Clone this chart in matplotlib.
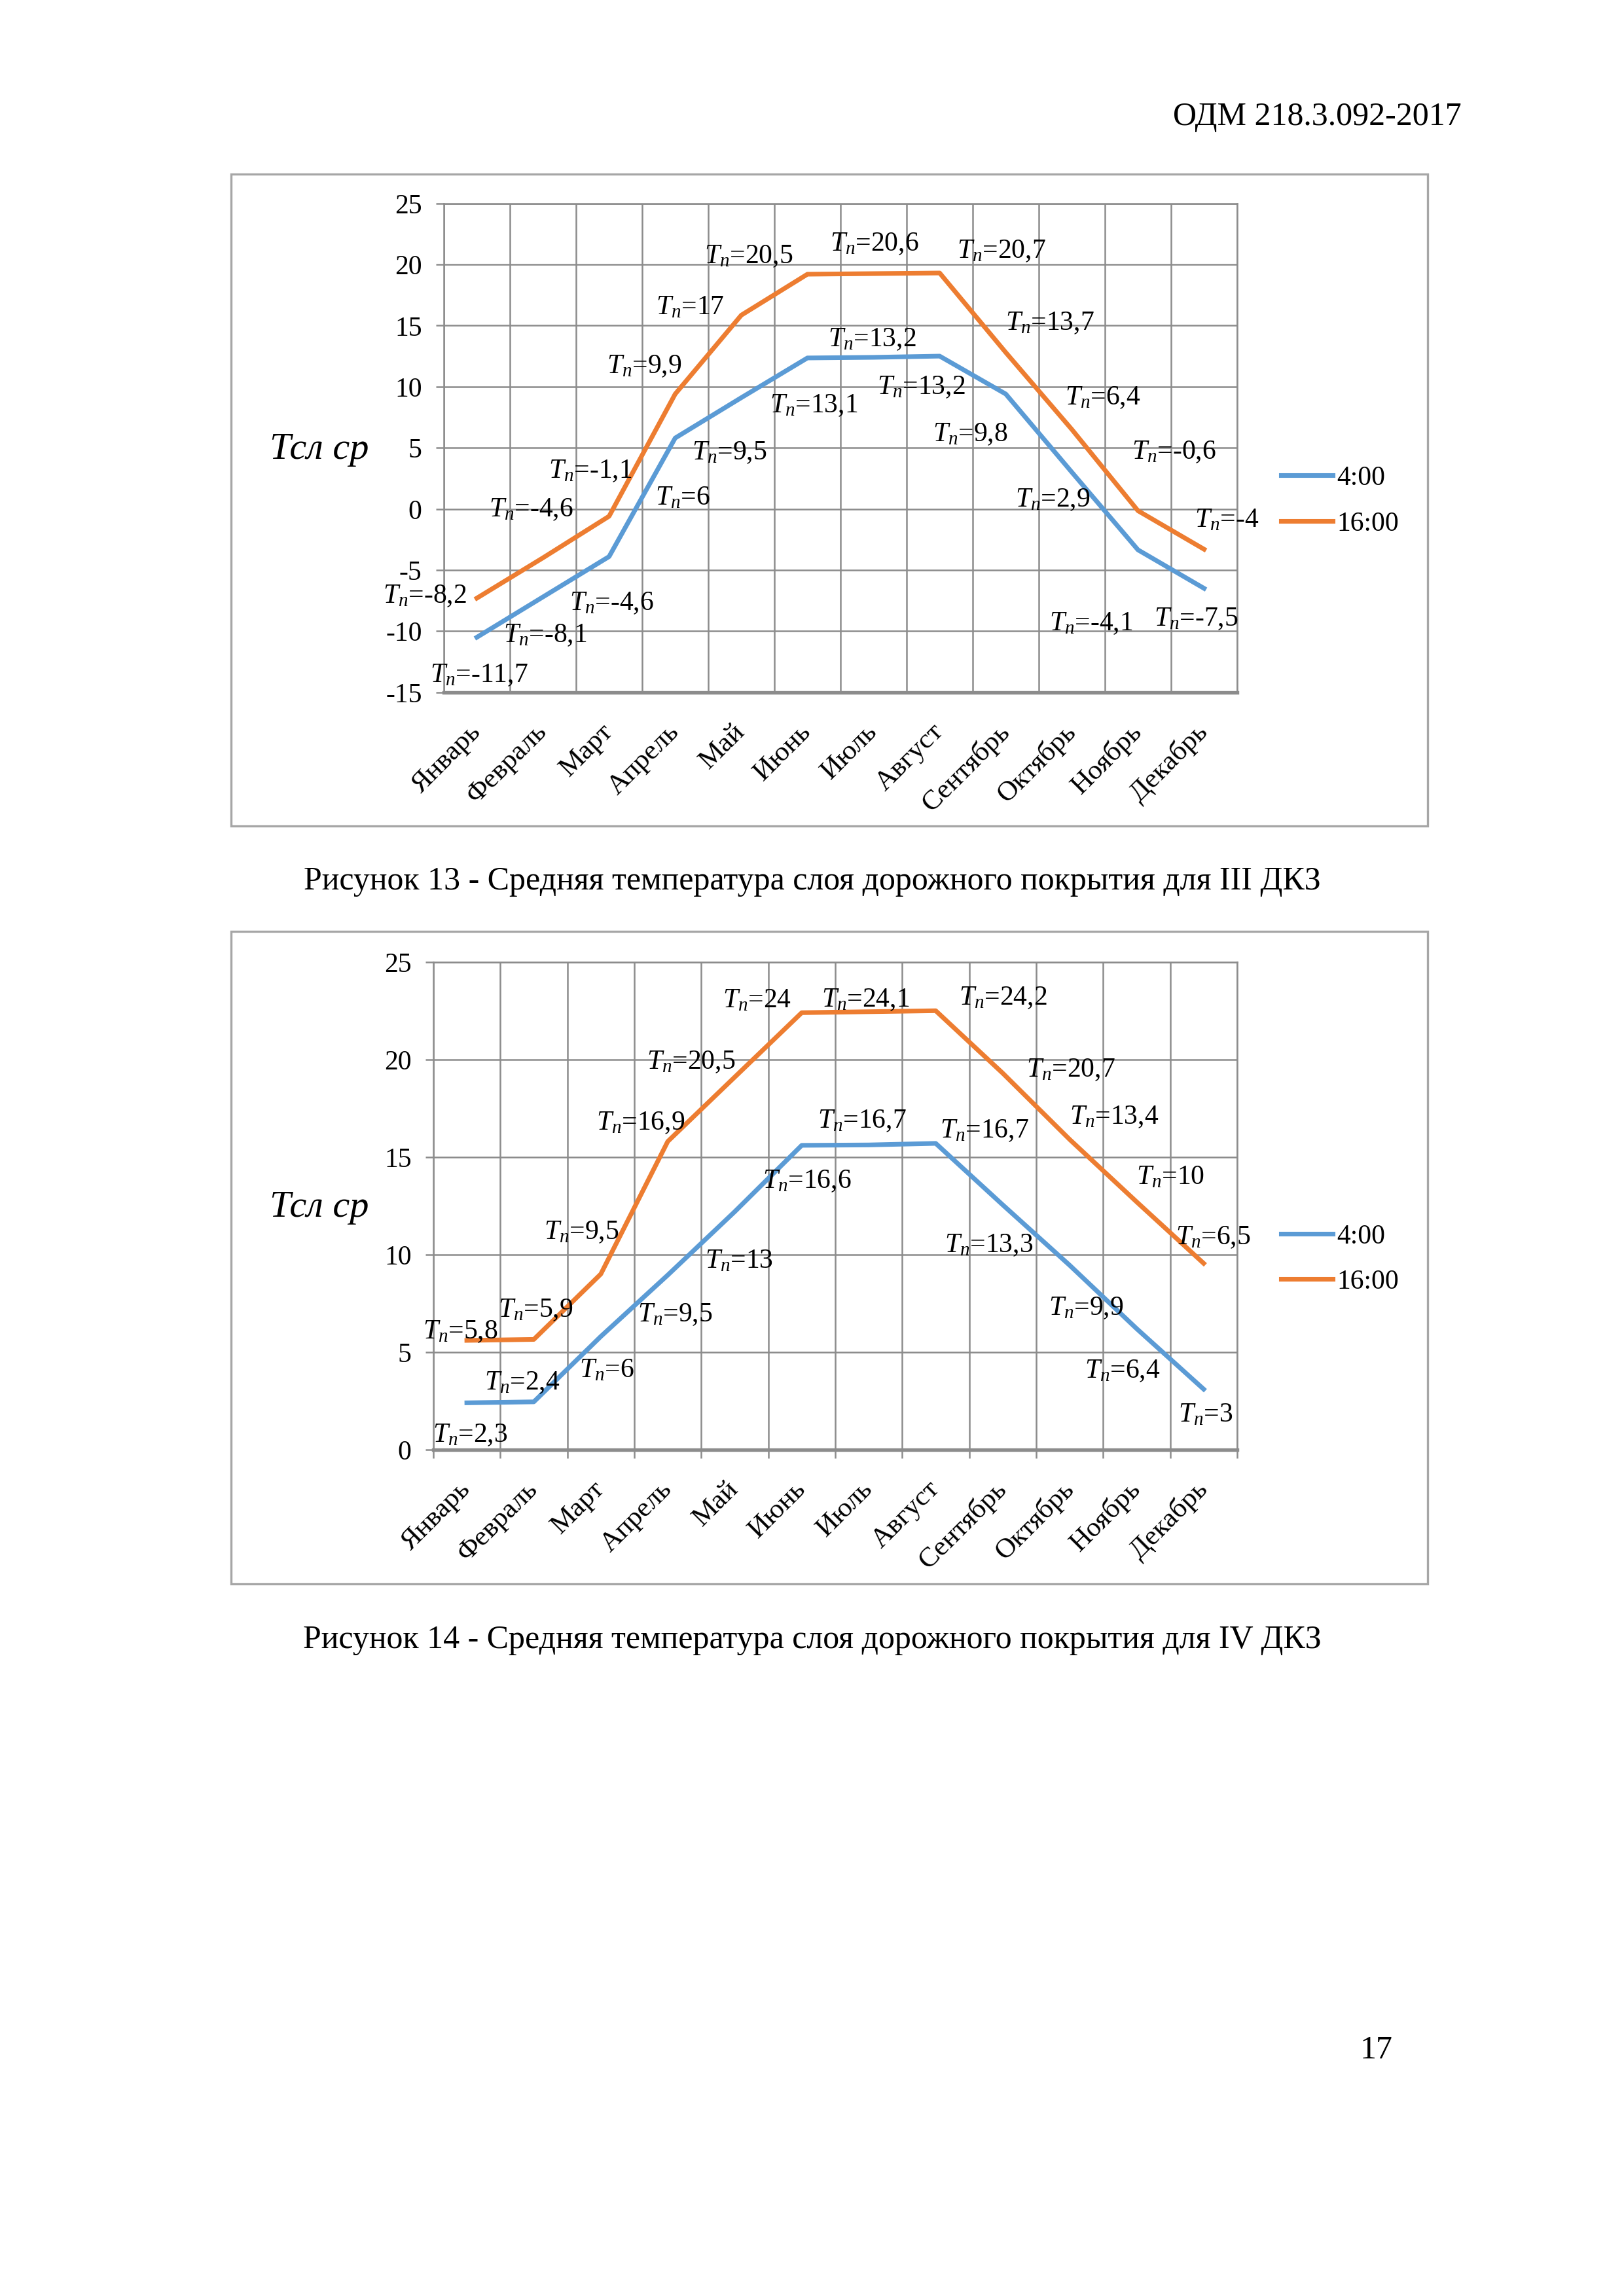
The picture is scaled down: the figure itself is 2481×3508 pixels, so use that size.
import numpy as np
import matplotlib
matplotlib.use("Agg")
import matplotlib.pyplot as plt
from matplotlib.patches import Rectangle

plt.rcParams['font.family'] = ['Liberation Serif', 'DejaVu Serif']
plt.rcParams['mathtext.fontset'] = 'custom'
plt.rcParams['mathtext.rm'] = 'Liberation Serif'
plt.rcParams['mathtext.it'] = 'Liberation Serif:italic'
plt.rcParams['axes.unicode_minus'] = False

months = ['Январь', 'Февраль', 'Март', 'Апрель', 'Май', 'Июнь', 'Июль',
          'Август', 'Сентябрь', 'Октябрь', 'Ноябрь', 'Декабрь']
series_names = ['4:00', '16:00']

# Рисунок 13 (III ДКЗ)
fig13_4 = [-10.5, -7.2, -3.9, 5.8, 9.1, 12.35, 12.4, 12.5, 9.4, 3.0, -3.35, -6.5]
fig13_16 = [-7.3, -4.0, -0.6, 9.4, 15.85, 19.2, 19.25, 19.3, 12.8, 6.5, -0.15, -3.3]
fig13_tn = ['20,5', '20,6', '20,7', '17', '13,7', '13,2', '9,9', '13,2', '13,1',
            '6,4', '9,8', '9,5', '-0,6', '-1,1', '6', '2,9', '-4,6', '-4',
            '-8,2', '-4,6', '-8,1', '-4,1', '-7,5', '-11,7']
fig13_yticks = [-15, -10, -5, 0, 5, 10, 15, 20, 25]

# Рисунок 14 (IV ДКЗ)
fig14_4 = [2.4, 2.45, 5.8, 8.95, 12.2, 15.6, 15.62, 15.7, 12.55, 9.45, 6.2, 3.1]
fig14_16 = [5.6, 5.65, 9.0, 15.8, 19.1, 22.4, 22.45, 22.5, 19.3, 15.9, 12.7, 9.55]
fig14_tn = ['24', '24,1', '24,2', '20,5', '20,7', '16,9', '16,7', '16,7', '13,4',
            '16,6', '10', '9,5', '13', '13,3', '6,5', '5,9', '9,5', '9,9',
            '5,8', '6', '6,4', '2,4', '3', '2,3']
fig14_yticks = [0, 5, 10, 15, 20, 25]

# label placement (data coords of left edge / text middle)
fig13_lx = [3.44, 5.34, 7.26, 2.71, 8.0, 5.31, 1.97, 6.05, 4.43, 8.9, 6.9, 3.25,
            9.91, 1.08, 2.7, 8.14, 0.18, 10.86, -1.42, 1.40, 0.40, 8.66, 10.24, -0.71]
fig13_ly = [20.9, 21.9, 21.3, 16.7, 15.4, 14.1, 11.9, 10.2, 8.7, 9.3, 6.3, 4.8,
            4.9, 3.3, 1.1, 0.96, 0.14, -0.7, -6.9, -7.5, -10.1, -9.15, -8.8, -13.4]
fig14_lx = [3.82, 5.29, 7.35, 2.69, 8.35, 1.93, 5.24, 7.06, 9.0, 4.42, 10.0, 1.15,
            3.56, 7.13, 10.58, 0.47, 2.55, 8.69, -0.66, 1.68, 9.22, 0.26, 10.62, -0.51]
fig14_ly = [23.15, 23.2, 23.3, 20.0, 19.6, 16.9, 17.0, 16.5, 17.2, 13.9, 14.1, 11.3,
            9.8, 10.6, 11.0, 7.3, 7.07, 7.4, 6.2, 4.2, 4.16, 3.56, 1.93, 0.9]

BLUE = '#5B9BD5'
ORANGE = '#ED7D31'
GRID = '#8C8C8C'

W, H = 2481, 3508
fig = plt.figure(figsize=(W / 300, 3508.4 / 300), dpi=300)


def draw_chart(ax, v4, v16, yticks, tn, lx, ly, xtick_len, leg_y):
    x = np.arange(len(months))
    ax.plot(x, v4, color=BLUE, lw=1.7, label=series_names[0])
    ax.plot(x, v16, color=ORANGE, lw=1.7, label=series_names[1])
    ax.set_xlim(-0.5, 11.5)
    ax.set_ylim(yticks[0], yticks[-1])
    ax.set_yticks(yticks)
    ax.set_xticks(np.arange(-0.5, 12, 1))
    ax.set_xticklabels([])
    ax.set_xticks(x, minor=True)
    ax.set_xticklabels(months, minor=True, rotation=45, ha='right', va='center',
                       rotation_mode='anchor', fontsize=10.3)
    ax.tick_params(axis='x', which='minor', length=0, pad=13)
    ax.tick_params(axis='x', which='major', length=xtick_len, color=GRID, width=0.6)
    ax.tick_params(axis='y', length=3, color=GRID, width=0.6, labelsize=10, pad=5)
    ax.grid(True, which='major', color=GRID, lw=0.6)
    for s in ax.spines.values():
        s.set_color(GRID)
        s.set_linewidth(0.6)
    ax.spines['bottom'].set_linewidth(1.3)
    for t, px, py in zip(tn, lx, ly):
        ax.annotate('$T_n$=' + t, (px, py), xytext=(0, -3.4), textcoords='offset points',
                    fontsize=10, ha='left', va='baseline', annotation_clip=False)
    ax.legend(loc='center left', bbox_to_anchor=(1957 / W, leg_y),
              bbox_transform=fig.transFigure, frameon=False, fontsize=10,
              handlelength=1.9, handletextpad=0.15, labelspacing=0.75,
              borderpad=0, borderaxespad=0)


ax1 = fig.add_axes([678 / W, 1 - 1058 / H, (1890 - 678) / W, (1058 - 311) / H])
draw_chart(ax1, fig13_4, fig13_16, fig13_yticks, fig13_tn, fig13_lx, fig13_ly, 0,
           1 - 766 / H)
ax2 = fig.add_axes([662 / W, 1 - 2215 / H, (1890 - 662) / W, (2215 - 1470) / H])
draw_chart(ax2, fig14_4, fig14_16, fig14_yticks, fig14_tn, fig14_lx, fig14_ly, 3,
           1 - 1924 / H)

# chart frames
for top, bot in [(266, 1262), (1423, 2420)]:
    fig.add_artist(Rectangle((353 / W, 1 - bot / H), (2181 - 353) / W, (bot - top) / H,
                             transform=fig.transFigure, fill=False,
                             ec='#A6A6A6', lw=0.8))

fig.text(488 / W, 1 - 687 / H, 'Тсл ср', style='italic', fontsize=14,
         ha='center', va='center')
fig.text(488 / W, 1 - 1845 / H, 'Тсл ср', style='italic', fontsize=14,
         ha='center', va='center')

fig.text(2233 / W, 1 - 179 / H, 'ОДМ 218.3.092-2017', fontsize=12,
         ha='right', va='center')
fig.text(1241 / W, 1 - 1347 / H,
         'Рисунок 13 - Средняя температура слоя дорожного покрытия для III ДКЗ',
         fontsize=12, ha='center', va='center')
fig.text(1241 / W, 1 - 2505 / H,
         'Рисунок 14 - Средняя температура слоя дорожного покрытия для IV ДКЗ',
         fontsize=12, ha='center', va='center')
fig.text(2103 / W, 1 - 3132 / H, '17', fontsize=12, ha='center', va='center')

fig.savefig('out.png', dpi=300, facecolor='white')
